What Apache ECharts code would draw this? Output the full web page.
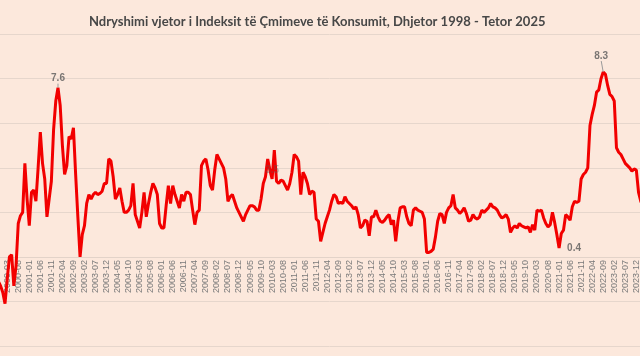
<!DOCTYPE html>
<html><head><meta charset="utf-8">
<script src="https://cdn.jsdelivr.net/npm/echarts@6/dist/echarts.min.js"></script>
<style>html,body{margin:0;padding:0;background:#FCE8DC;overflow:hidden;width:640px;height:356px;position:relative}#c{position:absolute;left:-27px;top:0;width:713px;height:356px}</style>
</head><body><div id="c"></div>
<script>
// Monthly series from 1998-12 to 2025-10
const startYear = 1998, startMonth = 12, monthCount = 323;
const categories = [];
for (let i = 0; i < monthCount; i++) {
  const t = (startYear * 12 + startMonth - 1) + i;
  const y = Math.floor(t / 12), m = t % 12 + 1;
  categories.push(y + '-' + (m < 10 ? '0' + m : m));
}
const cpiValues = [
  8.7, 6.0, 4.4, 3.1, 1.9, 0.9, 0.2, -0.5, -0.9, -1.0, -0.8, -1.1,
  -1.3, -1.6, -2.1, -1.0, 0.0, 0.1, -1.3, -0.4, 1.5, 1.85,
  2.0, 4.2, 2.6, 1.4, 2.9, 3.0, 2.5, 4.0, 5.6, 4.2,
  3.5, 1.8, 2.6, 3.4, 5.7, 7.0, 7.6, 6.8, 5.0, 3.7,
  4.1, 5.4, 5.3, 5.8, 3.7, 1.8, 0.0, 1.0, 1.4, 2.4,
  2.8, 2.6, 2.8, 2.9, 2.8, 2.85, 2.95, 3.3, 3.3, 4.4,
  4.3, 3.6, 2.6, 2.8, 3.1, 2.5, 2.0, 2.0, 2.1, 2.3,
  3.3, 1.9, 1.6, 1.3, 2.0, 2.9, 1.8, 2.4, 2.9, 3.3,
  3.1, 2.8, 1.5, 1.3, 1.3, 2.3, 3.2, 2.4, 3.2, 2.8,
  2.5, 2.2, 2.8, 2.5, 2.9, 2.9, 2.8, 2.1, 1.45, 2.0,
  2.1, 4.1, 4.3, 4.4, 3.9, 3.2, 3.0, 3.9, 4.6, 4.4,
  4.2, 4.0, 3.5, 2.5, 2.7, 2.8, 2.5, 2.2, 2.0, 1.8,
  1.6, 1.9, 2.1, 2.3, 2.3, 2.25, 2.1, 2.1, 2.6, 3.3,
  3.6, 4.4, 3.9, 3.5, 4.8, 3.4, 3.3, 3.45, 3.4, 3.2,
  3.0, 3.3, 3.8, 4.6, 4.5, 4.3, 2.8, 3.8, 3.6, 3.3,
  2.8, 2.95, 2.9, 1.7, 1.6, 0.7, 1.1, 1.5, 1.8, 2.1,
  2.5, 2.8, 2.7, 2.4, 2.45, 2.4, 2.7, 2.5, 2.4, 2.3,
  2.15, 2.25, 1.9, 1.3, 1.4, 1.65, 1.6, 0.95, 1.8, 1.8,
  2.1, 1.8, 1.6, 1.55, 1.65, 1.8, 1.9, 1.45, 1.65, 0.7,
  1.6, 2.2, 2.25, 2.25, 1.8, 1.5, 1.4, 2.1, 2.2, 2.1,
  2.05, 2.0, 1.7, 0.2, 0.2, 0.25, 0.35, 0.9, 1.6, 1.95,
  1.9, 1.5, 2.0, 2.2, 2.3, 2.8, 2.2, 2.1, 1.95, 2.05,
  2.2, 1.95, 1.6, 1.65, 1.9, 1.75, 1.7, 1.8, 2.1, 2.0,
  2.1, 2.2, 2.4, 2.25, 2.2, 2.1, 1.9, 1.75, 1.8, 1.9,
  1.7, 1.1, 1.3, 1.4, 1.3, 1.5, 1.4, 1.35, 1.3, 1.35,
  1.1, 1.45, 1.2, 2.1, 2.05, 2.1, 1.75, 1.5, 1.35, 1.45,
  2.0, 1.55, 1.0, 0.4, 1.05, 1.2, 1.9, 1.8, 1.65, 2.25,
  2.5, 2.45, 2.5, 3.5, 3.7, 3.8, 4.0, 5.9, 6.4, 6.8,
  7.4, 7.5, 8.0, 8.3, 8.2, 7.7, 7.3, 7.2, 7.0, 4.9,
  4.7, 4.6, 4.4, 4.2, 4.1, 4.0, 3.85, 3.95, 3.9, 2.9,
  2.5, 2.3, 2.1, 2.0, 2.1, 2.2, 2.3, 2.2, 2.1, 2.2, 2.3, 2.2, 2.2, 2.3, 2.4, 2.3, 2.5, 2.6, 2.4, 2.3, 2.2
];
// labelled points
const labelCategories = ['2002-02', '2010-03', '2021-01', '2022-09'];
const labelPositions = ['top', 'top', 'right', 'top'];
const yTicks = { min: -4, max: 10, step: 2 };
const gridTop = 34.2, gridBottom = 10;

const labelData = labelCategories.map((c, k) => {
  const v = cpiValues[categories.indexOf(c)];
  return {
    value: [c, v],
    label: {
      show: true, position: labelPositions[k],
      formatter: p => Number(p.value[1]).toFixed(1),
      fontSize: 10, fontWeight: 'bold', color: k === 1 ? 'rgba(90,90,90,0.5)' : '#595959',
      fontFamily: 'Liberation Sans', distance: k === 2 ? 8 : 4
    },
    labelLine: { show: k === 0 || k === 3 }
  };
});

// pixel offset from the bottom of the grid up to the zero line
const plotH = 356 - gridTop - gridBottom;
const zeroOffset = -plotH * (0 - yTicks.min) / (yTicks.max - yTicks.min);

const chart = echarts.init(document.getElementById('c'), null, { renderer: 'canvas' });
chart.setOption({
  backgroundColor: '#FCE8DC',
  animation: false,
  title: {
    text: 'Ndryshimi vjetor i Indeksit të Çmimeve të Konsumit, Dhjetor 1998 - Tetor 2025',
    left: 111, top: 10,
    textStyle: { fontFamily: 'Lato', fontSize: 13, fontWeight: 'bold', color: '#474747' }
  },
  grid: { left: 0, right: 0, top: gridTop, bottom: gridBottom, containLabel: false, outerBoundsMode: 'none' },
  xAxis: [{
    type: 'category', data: categories, boundaryGap: true,
    axisLine: { show: false, onZero: false },
    axisTick: { show: false },
    axisLabel: { show: false },
    splitLine: { show: false }
  }, {
    type: 'category', data: categories, boundaryGap: true, position: 'bottom', offset: zeroOffset,
    axisLine: { show: true, onZero: false, lineStyle: { color: '#E3D3C9', width: 1 } },
    axisTick: { show: false },
    axisLabel: { interval: 4, rotate: 90, margin: 3, fontSize: 9, color: '#7a7a7a', fontFamily: 'Liberation Sans' },
    splitLine: { show: false }
  }],
  yAxis: {
    type: 'value', min: yTicks.min, max: yTicks.max, interval: yTicks.step,
    axisLabel: { show: false }, axisLine: { show: false }, axisTick: { show: false },
    splitLine: { lineStyle: { color: '#E6D6CC', width: 1 } }
  },
  series: [{
    type: 'line', data: cpiValues, symbol: 'none', smooth: false, xAxisIndex: 0,
    lineStyle: { color: '#F20000', width: 3 }, z: 3
  }, {
    type: 'scatter', data: labelData, symbolSize: 0.01, z: 4, xAxisIndex: 0,
    itemStyle: { color: 'rgba(0,0,0,0)' },
    labelLayout: p => {
      if (p.dataIndex === 0) return { dy: 0 };
      if (p.dataIndex === 3) return { dy: -7, dx: -2 };
      return {};
    },
    labelLine: { show: true, lineStyle: { color: '#9a9a9a', width: 1 } }
  }]
});
</script></body></html>
